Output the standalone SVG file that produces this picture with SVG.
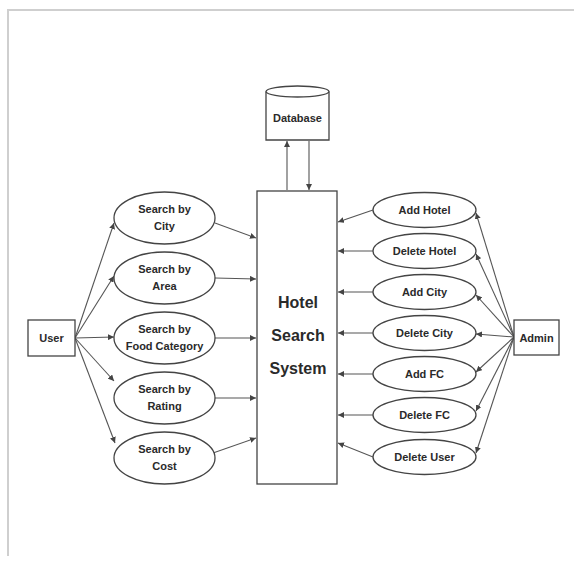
<svg xmlns="http://www.w3.org/2000/svg" width="574" height="561" viewBox="0 0 574 561">
<defs>
<marker id="ah" markerUnits="userSpaceOnUse" markerWidth="7" markerHeight="6" refX="6" refY="3" orient="auto">
<path d="M0,0 L6,3 L0,6 z" fill="#444"/>
</marker>
<style>
.n{fill:#fff;stroke:#444;stroke-width:1.3}
.t{font-family:"Liberation Sans",Arial,sans-serif;font-weight:bold;font-size:11px;fill:#2a2a2a;text-anchor:middle}
.big{font-size:16px}
.c line{stroke:#555;stroke-width:1.1;marker-end:url(#ah)}
</style>
</defs>
<rect width="574" height="561" fill="#fff"/>
<path d="M8,556 V10 H574" fill="none" stroke="#cfcfcf" stroke-width="2"/>

<g class="c" id="connectors">
<line x1="287" y1="190" x2="287" y2="141"/>
<line x1="309" y1="141" x2="309" y2="190"/>
<line x1="75" y1="338" x2="114" y2="223"/>
<line x1="75" y1="338" x2="114" y2="276"/>
<line x1="75" y1="338" x2="114" y2="337"/>
<line x1="75" y1="338" x2="114" y2="381"/>
<line x1="75" y1="338" x2="115" y2="443"/>
<line x1="215" y1="223" x2="256" y2="238"/>
<line x1="215" y1="278" x2="256" y2="279"/>
<line x1="215" y1="338" x2="256" y2="338"/>
<line x1="215" y1="398" x2="256" y2="398"/>
<line x1="213" y1="453" x2="256" y2="438"/>
<line x1="514" y1="337" x2="476" y2="213"/>
<line x1="514" y1="337" x2="476" y2="254"/>
<line x1="514" y1="337" x2="476" y2="295"/>
<line x1="514" y1="337" x2="476" y2="334"/>
<line x1="514" y1="337" x2="476" y2="372"/>
<line x1="514" y1="337" x2="476" y2="411"/>
<line x1="514" y1="337" x2="476" y2="453"/>
<line x1="373" y1="210" x2="338" y2="222"/>
<line x1="373" y1="251" x2="338" y2="251"/>
<line x1="373" y1="292" x2="338" y2="292"/>
<line x1="373" y1="333" x2="338" y2="333"/>
<line x1="373" y1="374" x2="338" y2="374"/>
<line x1="373" y1="415" x2="338" y2="415"/>
<line x1="373" y1="457" x2="338" y2="443"/>
</g>

<g id="database">
<path class="n" d="M266,91.5 V140 H329 V91.5"/>
<ellipse class="n" cx="297.5" cy="91.5" rx="31.5" ry="5.5"/>
<text class="t" x="297.5" y="122" font-size="11.5">Database</text>
</g>

<g id="system">
<rect class="n" x="257" y="191" width="80" height="293"/>
<text class="t big" x="298" y="308">Hotel</text>
<text class="t big" x="298" y="341">Search</text>
<text class="t big" x="298" y="374">System</text>
</g>

<g id="user">
<rect class="n" x="28" y="320" width="47" height="36"/>
<text class="t" x="51.5" y="342" font-size="12">User</text>
</g>

<g id="admin">
<rect class="n" x="514" y="320" width="45" height="35"/>
<text class="t" x="536.5" y="341.5" font-size="12">Admin</text>
</g>

<g id="search-city">
<ellipse class="n" cx="164.5" cy="218" rx="50.5" ry="26"/>
<text class="t" x="164.5" y="213">Search by</text>
<text class="t" x="164.5" y="230">City</text>
</g>
<g id="search-area">
<ellipse class="n" cx="164.5" cy="278" rx="50.5" ry="26"/>
<text class="t" x="164.5" y="273">Search by</text>
<text class="t" x="164.5" y="290">Area</text>
</g>
<g id="search-food">
<ellipse class="n" cx="164.5" cy="338" rx="50.5" ry="26"/>
<text class="t" x="164.5" y="333">Search by</text>
<text class="t" x="164.5" y="350">Food Category</text>
</g>
<g id="search-rating">
<ellipse class="n" cx="164.5" cy="398" rx="50.5" ry="26"/>
<text class="t" x="164.5" y="393">Search by</text>
<text class="t" x="164.5" y="410">Rating</text>
</g>
<g id="search-cost">
<ellipse class="n" cx="164.5" cy="458" rx="50.5" ry="26"/>
<text class="t" x="164.5" y="453">Search by</text>
<text class="t" x="164.5" y="470">Cost</text>
</g>

<g id="add-hotel">
<ellipse class="n" cx="424.5" cy="210" rx="51.5" ry="17.5"/>
<text class="t" x="424.5" y="214">Add Hotel</text>
</g>
<g id="delete-hotel">
<ellipse class="n" cx="424.5" cy="251" rx="51.5" ry="17.5"/>
<text class="t" x="424.5" y="255">Delete Hotel</text>
</g>
<g id="add-city">
<ellipse class="n" cx="424.5" cy="292" rx="51.5" ry="17.5"/>
<text class="t" x="424.5" y="296">Add City</text>
</g>
<g id="delete-city">
<ellipse class="n" cx="424.5" cy="333" rx="51.5" ry="17.5"/>
<text class="t" x="424.5" y="337">Delete City</text>
</g>
<g id="add-fc">
<ellipse class="n" cx="424.5" cy="374" rx="51.5" ry="17.5"/>
<text class="t" x="424.5" y="378">Add FC</text>
</g>
<g id="delete-fc">
<ellipse class="n" cx="424.5" cy="415" rx="51.5" ry="17.5"/>
<text class="t" x="424.5" y="419">Delete FC</text>
</g>
<g id="delete-user">
<ellipse class="n" cx="424.5" cy="457" rx="51.5" ry="17.5"/>
<text class="t" x="424.5" y="461">Delete User</text>
</g>
</svg>
